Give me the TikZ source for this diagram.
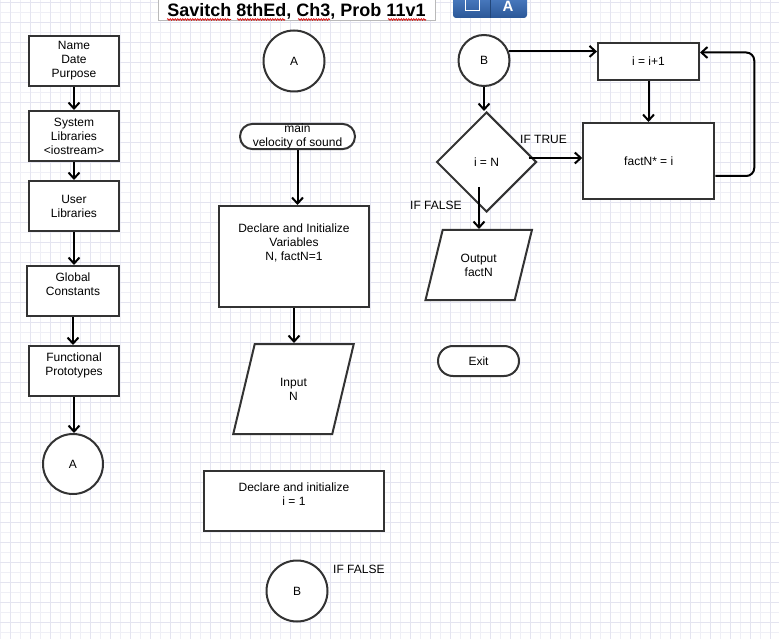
\documentclass[tikz,border=0pt]{standalone}
\usepackage{fontspec}
\setmainfont{Liberation Sans}
\usetikzlibrary{arrows.meta, shapes.geometric, decorations.pathmorphing, calc, positioning}
\definecolor{boxline}{HTML}{333333}
\definecolor{gridmain}{HTML}{E4E4F0}
\definecolor{gridlite}{HTML}{EFEFF6}
\definecolor{btntop}{HTML}{4F81C7}
\definecolor{btnbot}{HTML}{2B5797}
\tikzset{
  txt/.style={font=\fontsize{12}{14}\selectfont, align=center},
  proc/.style={txt, draw=boxline, line width=2pt, fill=white, inner sep=0pt},
  conn/.style={txt, circle, draw=boxline, line width=2pt, fill=white, inner sep=0pt},
  term/.style={txt, draw=boxline, line width=2pt, fill=white, inner sep=0pt},
  inout/.style={txt, trapezium, trapezium stretches=true, draw=boxline, line width=2pt, fill=white, inner sep=0pt},
  choice/.style={txt, diamond, draw=boxline, line width=2pt, fill=white, inner sep=0pt},
  arr/.style={black, line width=2pt, -{Straight Barb[length=6pt,width=11pt]}},
  lbl/.style={font=\fontsize{12}{14}\selectfont, inner sep=0pt, anchor=west},
  squig/.style={red!85!black, line width=0.6pt, decorate, decoration={snake, amplitude=0.9pt, segment length=2.5pt}}
}
\begin{document}
\begin{tikzpicture}[x=1pt, y=-1pt]
  \useasboundingbox (0,0) rectangle (779,639);
  % Grid paper
  \fill[white] (0,0) rectangle (779,639);
  \foreach \x in {0,20,...,780} \draw[gridlite, line width=0.6pt] (\x,0) -- (\x,639);
  \foreach \y in {12,32,...,632} \draw[gridlite, line width=0.6pt] (0,\y) -- (779,\y);
  \foreach \x in {10,30,...,770} \draw[gridmain, line width=0.6pt] (\x,0) -- (\x,639);
  \foreach \y in {2,22,...,622} \draw[gridmain, line width=0.6pt] (0,\y) -- (779,\y);
  % Title
  \node[draw=gray!55, line width=0.8pt, fill=white, minimum width=277pt, minimum height=24pt, inner sep=0pt] (tbox) at (296.5,8.5) {};
  \node[font=\bfseries\fontsize{18}{18}\selectfont, anchor=base, inner sep=0pt] (title) at (296.5,16.5) {Savitch 8thEd, Ch3, Prob 11v1};
  \draw[squig] (167,19.5) -- (231,19.5);
  \draw[squig] (237,19.5) -- (285,19.5);
  \draw[squig] (298,19.5) -- (330,19.5);
  \draw[squig] (388,19.5) -- (426,19.5);
  % Toolbar button
  \shade[top color=btntop, bottom color=btnbot, rounded corners=3pt] (453,-6) rectangle (527,18);
  \draw[white, line width=0.8pt] (465,-3) rectangle (479,10.5);
  \draw[btnbot!80!black, line width=0.8pt] (490,-3) -- (490,18);
  \node[font=\bfseries\fontsize{15}{15}\selectfont, text=white, anchor=base, inner sep=0pt] (btnA) at (508,11.5) {A};

  % Left column
  \node[proc, minimum width=90pt, minimum height=50pt] (head) at (74,61) {Name\\Date\\Purpose};
  \node[proc, minimum width=90pt, minimum height=50pt] (sysl) at (74,136) {System\\Libraries\\<iostream>};
  \node[proc, minimum width=90pt, minimum height=50pt] (usrl) at (74,206) {User\\Libraries};
  \node[proc, minimum width=92pt, minimum height=50pt] (glob) at (73,291) {Global\\Constants\\\mbox{}};
  \node[proc, minimum width=90pt, minimum height=50pt] (func) at (74,371) {Functional\\Prototypes\\\mbox{}};
  \node[conn, minimum size=60pt] (conA) at (73,464) {A};
  \draw[arr] (head.south) -- (head.south |- sysl.north);
  \draw[arr] (sysl.south) -- (sysl.south |- usrl.north);
  \draw[arr] (usrl.south) -- (usrl.south |- glob.north);
  \draw[arr] (glob.south) -- (glob.south |- func.north);
  \draw[arr] (func.south) -- (func.south |- conA.north);

  % Middle column
  \node[conn, minimum size=61pt] (pageA) at (294,61) {A};
  \node[term, rounded corners=12.5pt, minimum width=115pt, minimum height=25pt] (main) at (297.5,136.5) {main\\velocity of sound};
  \node[proc, minimum width=150pt, minimum height=101pt] (vars) at (294,256.5) {Declare and Initialize\\Variables\\N, factN=1\\\mbox{}\\\mbox{}};
  \node[inout, trapezium left angle=71.6, trapezium right angle=108.4, minimum width=121pt, minimum height=90pt] (input) at (293.5,389) {Input\\N};
  \node[proc, minimum width=180pt, minimum height=60pt] (initi) at (294,501) {Declare and initialize\\i = 1\\\mbox{}};
  \node[conn, minimum size=61pt] (pageB) at (297,591) {B};
  \node[lbl] (nofalse) at (333,569.5) {IF FALSE};
  \node[term, rounded corners=15pt, minimum width=81pt, minimum height=30pt] (exit) at (478.5,361) {Exit};
  \draw[arr] (main.south) -- (main.south |- vars.north);
  \draw[arr] (vars.south) -- (vars.south |- input.north);

  % Right column
  \node[conn, minimum size=51pt] (conB) at (484,60.5) {B};
  \node[proc, minimum width=101pt, minimum height=37pt] (inc) at (648.5,61.5) {i = i+1};
  \node[proc, minimum width=131pt, minimum height=76pt] (fact) at (648.75,161) {factN* = i};
  \node[choice, minimum width=100pt, minimum height=100pt] (test) at (486.5,162) {i = N};
  \node[inout, trapezium left angle=69.1, trapezium right angle=110.9, minimum width=107pt, minimum height=70pt] (output) at (478.7,265) {Output\\factN};
  \node[lbl] (iftrue) at (520,139.3) {IF TRUE};
  \node[lbl] (iffalse) at (410,205.7) {IF FALSE};
  \draw[arr] (conB.20) -- (conB.20 -| inc.west);
  \draw[arr] (conB.south) -- (conB.south |- test.north);
  \draw[arr] (inc.south) -- (inc.south |- fact.north);
  \draw[arr] ([xshift=-9pt,yshift=4pt]test.east) coordinate (t0) -- (t0 -| fact.west);
  \draw[arr] ([xshift=-7.5pt,yshift=-25pt]test.center) coordinate (f0) -- (f0 |- output.north);
  \draw[arr, rounded corners=8pt] ([yshift=-15pt]fact.east) -- ++(39,0) |- ([yshift=9pt]inc.east);
\end{tikzpicture}
\end{document}
